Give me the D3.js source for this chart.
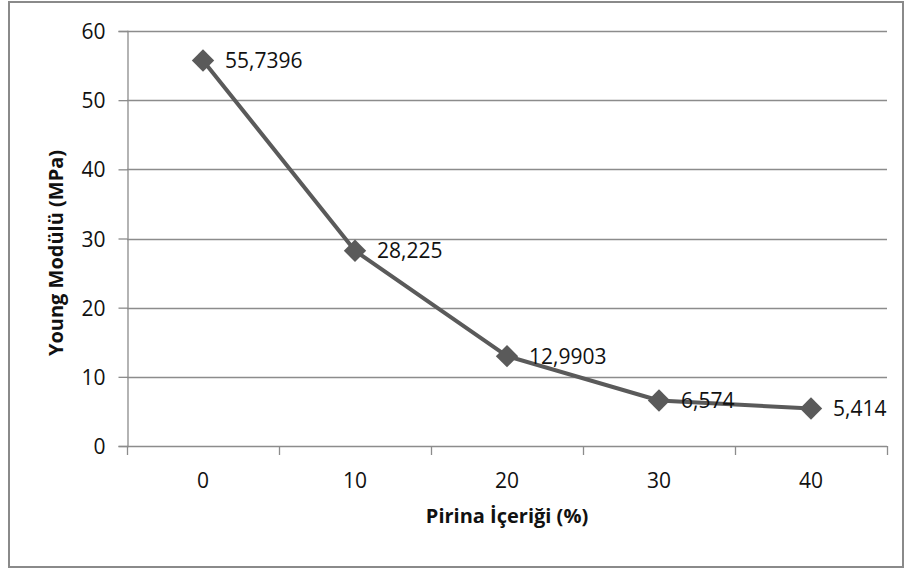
<!DOCTYPE html>
<html>
<head>
<meta charset="utf-8">
<script src="https://cdn.jsdelivr.net/npm/d3@7"></script>
<style>
  html, body { margin: 0; padding: 0; background: #fff; }
  svg { display: block; }
  text { font-family: "Open Sans", "Noto Sans", sans-serif; }
</style>
</head>
<body>
<svg id="chart" width="904" height="569"></svg>
<script>
// Pirina content (%) and measured Young's modulus (MPa)
const categories = ["0", "10", "20", "30", "40"];
const youngModulus = [55.7396, 28.225, 12.9903, 6.574, 5.414];
const valueLabels = ["55,7396", "28,225", "12,9903", "6,574", "5,414"];
const yTicks = [0, 10, 20, 30, 40, 50, 60];

const xTitle = "Pirina İçeriği (%)";
const yTitle = "Young Modülü (MPa)";

const svg = d3.select("#chart");
const W = 904, H = 569;
const plot = { left: 127, right: 887, top: 31, bottom: 446 };

const lineColor = "#5a5a5a";
const gridColor = "#8c8c8c";
const textColor = "#111";
const labelSize = "21px";
const titleSize = "20px";

// outer chart frame
svg.append("rect")
  .attr("x", 9).attr("y", 2)
  .attr("width", W - 10).attr("height", H - 4)
  .attr("fill", "#fff")
  .attr("stroke", "#8a8a8a")
  .attr("stroke-width", 2);

const x = d3.scaleBand()
  .domain(categories)
  .range([plot.left, plot.right])
  .paddingInner(0).paddingOuter(0);

const y = d3.scaleLinear()
  .domain([0, 60])
  .range([plot.bottom, plot.top]);

// horizontal gridlines
svg.append("g")
  .selectAll("line")
  .data(yTicks.filter(d => d > 0))
  .join("line")
  .attr("x1", plot.left).attr("x2", plot.right)
  .attr("y1", d => Math.round(y(d)) + 0.5)
  .attr("y2", d => Math.round(y(d)) + 0.5)
  .attr("stroke", gridColor)
  .attr("stroke-width", 1.3);

// y axis
const yAxis = d3.axisLeft(y)
  .tickValues(yTicks)
  .tickSize(9)
  .tickPadding(13)
  .tickFormat(d3.format("d"));

const gy = svg.append("g")
  .attr("transform", `translate(${plot.left + 0.5},0)`)
  .call(yAxis);
gy.select(".domain").attr("stroke", gridColor).attr("stroke-width", 1.3);
gy.selectAll(".tick line").attr("stroke", gridColor).attr("stroke-width", 1.3);
gy.selectAll(".tick text")
  .attr("fill", textColor)
  .style("font-size", labelSize)
  .attr("dy", "0.36em");

// x axis: ticks on category boundaries, labels centered in each band
const boundaries = d3.range(categories.length + 1)
  .map(i => plot.left + i * x.bandwidth());

const gx = svg.append("g");
gx.append("line")
  .attr("x1", plot.left).attr("x2", plot.right)
  .attr("y1", plot.bottom + 0.5).attr("y2", plot.bottom + 0.5)
  .attr("stroke", gridColor).attr("stroke-width", 1.3);
gx.selectAll("line.tk")
  .data(boundaries)
  .join("line")
  .attr("class", "tk")
  .attr("x1", d => Math.round(d) + 0.5).attr("x2", d => Math.round(d) + 0.5)
  .attr("y1", plot.bottom).attr("y2", plot.bottom + 9)
  .attr("stroke", gridColor).attr("stroke-width", 1.3);
gx.selectAll("text")
  .data(categories)
  .join("text")
  .attr("x", d => x(d) + x.bandwidth() / 2)
  .attr("y", 488)
  .attr("text-anchor", "middle")
  .attr("fill", textColor)
  .style("font-size", labelSize)
  .text(d => d);

// series line
const cx = d => x(d) + x.bandwidth() / 2;
const pts = categories.map((c, i) => [cx(c), y(youngModulus[i])]);

svg.append("path")
  .datum(pts)
  .attr("d", d3.line())
  .attr("fill", "none")
  .attr("stroke", lineColor)
  .attr("stroke-width", 4)
  .attr("stroke-linejoin", "round");

// diamond markers
const diamond = d3.symbol().type(d3.symbolSquare).size(250);
svg.append("g")
  .selectAll("path")
  .data(pts)
  .join("path")
  .attr("d", diamond)
  .attr("transform", d => `translate(${d[0]},${d[1]}) rotate(45)`)
  .attr("fill", lineColor);

// value labels to the right of each marker
svg.append("g")
  .selectAll("text")
  .data(pts)
  .join("text")
  .attr("x", d => d[0] + 22)
  .attr("y", d => d[1] + 7.5)
  .attr("fill", textColor)
  .style("font-size", labelSize)
  .text((d, i) => valueLabels[i]);

// axis titles
svg.append("text")
  .attr("x", (plot.left + plot.right) / 2)
  .attr("y", 523)
  .attr("text-anchor", "middle")
  .attr("fill", textColor)
  .style("font-size", titleSize)
  .style("font-weight", "bold")
  .text(xTitle);

svg.append("text")
  .attr("transform", `translate(63,253) rotate(-90)`)
  .attr("text-anchor", "middle")
  .attr("fill", textColor)
  .style("font-size", titleSize)
  .style("font-weight", "bold")
  .text(yTitle);
</script>
</body>
</html>
